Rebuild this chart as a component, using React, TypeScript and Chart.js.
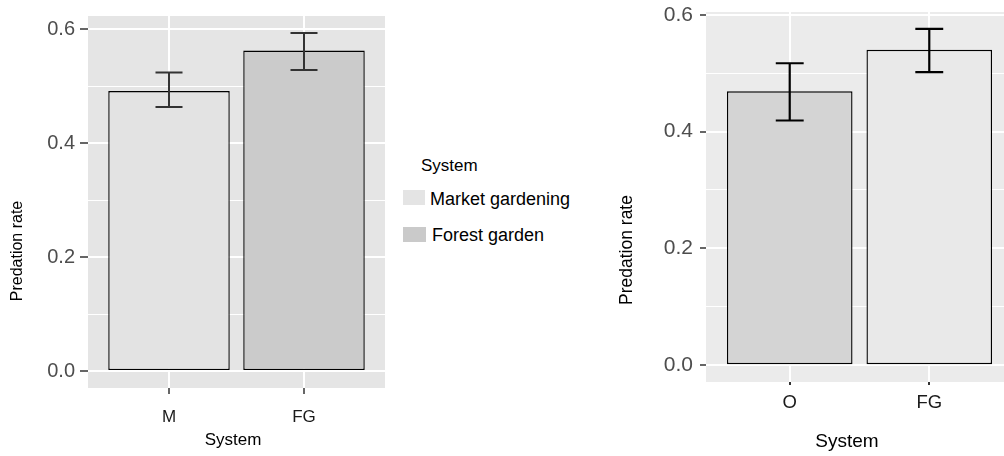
import React, { useEffect, useRef } from "react";
import { Chart, registerables } from "chart.js";

Chart.register(...registerables);

// ---------- data ----------
const leftCategories = ["M", "FG"];
const leftValues = [0.492, 0.563];
const leftErrLow = [0.464, 0.529];
const leftErrHigh = [0.5245, 0.594];

const rightCategories = ["O", "FG"];
const rightValues = [0.469, 0.54];
const rightErrLow = [0.419, 0.502];
const rightErrHigh = [0.517, 0.576];

const yTickValues = [0, 0.1, 0.2, 0.3, 0.4, 0.5, 0.6];
const legendTitle = "System";
const legendLabels = ["Market gardening", "Forest garden"];
const xAxisTitle = "System";
const yAxisTitle = "Predation rate";

// ---------- styles ----------
const FONT = "'Liberation Sans', Arial, Helvetica, sans-serif";
const leftFills = ["#e3e3e3", "#cbcbcb"];
const rightFills = ["#d4d4d4", "#e9e9e9"];
const legendFills = ["#e4e4e4", "#cacaca"];

const isMajor = (v: number) => Math.round(v * 10) % 2 === 0;

type PanelOpts = {
  categories: string[];
  values: number[];
  low: number[];
  high: number[];
  fills: string[];
  panelBg: string;
  errColor: string;
  errWidth: number;
  padTop: number;
  padRight: number;
  yAxisWidth: number;
  xAxisHeight: number;
  yTickFont: number;
  yTickLen: number;
  yTickPad: number;
  xTickFont: number;
  xTickLen: number;
  xTickPad: number;
  xTickWidth: number;
  yTitlePos: [number, number];
  yTitleFont: number;
  xTitlePos: [number, number];
  xTitleFont: number;
};

function makeConfig(o: PanelOpts): any {
  const top = Math.max(...o.high);
  const yMax = top * 1.05;
  const yMin = -top * 0.05;
  const n = o.categories.length;

  const bgPlugin = {
    id: "panelBg",
    beforeDraw(chart: any) {
      const { ctx, chartArea: a } = chart;
      ctx.save();
      ctx.fillStyle = o.panelBg;
      ctx.fillRect(a.left, a.top, a.right - a.left, a.bottom - a.top);
      ctx.restore();
    },
  };

  const errPlugin = {
    id: "errBars",
    afterDatasetsDraw(chart: any) {
      const { ctx } = chart;
      const xs = chart.scales.x;
      const ys = chart.scales.y;
      ctx.save();
      ctx.strokeStyle = o.errColor;
      ctx.lineWidth = o.errWidth;
      ctx.lineCap = "butt";
      for (let i = 0; i < n; i++) {
        const xc = xs.getPixelForValue(i + 1);
        const xl = xs.getPixelForValue(i + 1 - 0.1);
        const xr = xs.getPixelForValue(i + 1 + 0.1);
        const yl = ys.getPixelForValue(o.low[i]);
        const yh = ys.getPixelForValue(o.high[i]);
        ctx.beginPath();
        ctx.moveTo(xc, yl);
        ctx.lineTo(xc, yh);
        ctx.moveTo(xl, yl);
        ctx.lineTo(xr, yl);
        ctx.moveTo(xl, yh);
        ctx.lineTo(xr, yh);
        ctx.stroke();
      }
      ctx.restore();
    },
  };

  const titlePlugin = {
    id: "axisTitles",
    afterDraw(chart: any) {
      const { ctx } = chart;
      ctx.save();
      ctx.fillStyle = "#000000";
      ctx.textAlign = "center";
      ctx.textBaseline = "middle";
      ctx.font = `${o.xTitleFont}px ${FONT}`;
      ctx.fillText(xAxisTitle, o.xTitlePos[0], o.xTitlePos[1]);
      ctx.translate(o.yTitlePos[0], o.yTitlePos[1]);
      ctx.rotate(-Math.PI / 2);
      ctx.font = `${o.yTitleFont}px ${FONT}`;
      ctx.fillText(yAxisTitle, 0, 0);
      ctx.restore();
    },
  };

  return {
    type: "bar",
    data: {
      datasets: [
        {
          data: o.values.map((v, i) => ({ x: i + 1, y: v })),
          backgroundColor: o.fills,
          borderColor: "#000000",
          borderWidth: 1.4,
          borderSkipped: false,
          barPercentage: 0.9,
          categoryPercentage: 1,
        },
      ],
    },
    options: {
      animation: false,
      responsive: false,
      devicePixelRatio: 1,
      layout: { padding: { top: o.padTop, right: o.padRight, left: 0, bottom: 0 } },
      plugins: { legend: { display: false }, tooltip: { enabled: false } },
      scales: {
        x: {
          type: "linear",
          offset: false,
          min: 0.4,
          max: n + 0.6,
          afterBuildTicks: (s: any) => {
            s.ticks = o.categories.map((_, i) => ({ value: i + 1 }));
          },
          afterFit: (s: any) => {
            s.height = o.xAxisHeight;
          },
          border: { display: false },
          grid: {
            offset: false,
            color: "#ffffff",
            lineWidth: 2,
            tickColor: "#333333",
            tickLength: o.xTickLen,
            tickWidth: o.xTickWidth,
          },
          ticks: {
            autoSkip: false,
            maxRotation: 0,
            padding: o.xTickPad,
            color: "#1a1a1a",
            font: { family: FONT, size: o.xTickFont, lineHeight: 1 },
            callback: (v: any) => o.categories[Math.round(v) - 1] ?? "",
          },
        },
        y: {
          type: "linear",
          min: yMin,
          max: yMax,
          afterBuildTicks: (s: any) => {
            s.ticks = yTickValues.map((v) => ({ value: v }));
          },
          afterFit: (s: any) => {
            s.width = o.yAxisWidth;
          },
          border: { display: false },
          grid: {
            color: "#ffffff",
            lineWidth: (c: any) => (c.tick && !isMajor(c.tick.value) ? 1 : 2),
            tickColor: (c: any) =>
              c.tick && !isMajor(c.tick.value) ? "rgba(0,0,0,0)" : "#333333",
            tickLength: o.yTickLen,
            tickWidth: 1.5,
          },
          ticks: {
            autoSkip: false,
            padding: o.yTickPad,
            color: "#4d4d4d",
            font: { family: FONT, size: o.yTickFont, lineHeight: 0.4 },
            callback: (v: any) => (isMajor(v) ? Number(v).toFixed(1) : ""),
          },
        },
      },
    },
    plugins: [bgPlugin, errPlugin, titlePlugin],
  };
}

const leftOpts: PanelOpts = {
  categories: leftCategories,
  values: leftValues,
  low: leftErrLow,
  high: leftErrHigh,
  fills: leftFills,
  panelBg: "#e5e5e5",
  errColor: "#333333",
  errWidth: 2,
  padTop: 16,
  padRight: 15,
  yAxisWidth: 88,
  xAxisHeight: 68,
  yTickFont: 20,
  yTickLen: 8,
  yTickPad: 5,
  xTickFont: 17,
  xTickLen: 6,
  xTickPad: 15,
  xTickWidth: 1.5,
  yTitlePos: [18, 251],
  yTitleFont: 16,
  xTitlePos: [233, 440],
  xTitleFont: 17,
};

const rightOpts: PanelOpts = {
  categories: rightCategories,
  values: rightValues,
  low: rightErrLow,
  high: rightErrHigh,
  fills: rightFills,
  panelBg: "#ebebeb",
  errColor: "#000000",
  errWidth: 2.2,
  padTop: 12,
  padRight: 7,
  yAxisWidth: 106,
  xAxisHeight: 74,
  yTickFont: 21,
  yTickLen: 6,
  yTickPad: 7,
  xTickFont: 18.5,
  xTickLen: 3,
  xTickPad: 9,
  xTickWidth: 2,
  yTitlePos: [27, 250],
  yTitleFont: 17.5,
  xTitlePos: [247, 442],
  xTitleFont: 19,
};

function Panel({ opts, left, width }: { opts: PanelOpts; left: number; width: number }) {
  const ref = useRef<HTMLCanvasElement | null>(null);
  useEffect(() => {
    if (!ref.current) return;
    const chart = new Chart(ref.current, makeConfig(opts));
    return () => chart.destroy();
  }, [opts]);
  return (
    <canvas
      ref={ref}
      width={width}
      height={456}
      style={{ position: "absolute", left, top: 0, width, height: 456, display: "block" }}
    />
  );
}

export default function App() {
  const textStyle: React.CSSProperties = {
    position: "absolute",
    fontFamily: FONT,
    color: "#000000",
    whiteSpace: "nowrap",
    lineHeight: "20px",
    height: 20,
  };
  return (
    <div
      style={{
        position: "absolute",
        left: 0,
        top: 0,
        width: 1004,
        height: 456,
        overflow: "hidden",
        background: "#ffffff",
      }}
    >
      <Panel opts={leftOpts} left={0} width={400} />
      <Panel opts={rightOpts} left={600} width={420} />
      <div style={{ ...textStyle, left: 421, top: 156, fontSize: 17 }}>{legendTitle}</div>
      <div style={{ position: "absolute", left: 403, top: 190, width: 22, height: 15, background: legendFills[0] }} />
      <div style={{ ...textStyle, left: 430, top: 189, fontSize: 18 }}>{legendLabels[0]}</div>
      <div style={{ position: "absolute", left: 403, top: 227, width: 23, height: 15, background: legendFills[1] }} />
      <div style={{ ...textStyle, left: 432, top: 225, fontSize: 18 }}>{legendLabels[1]}</div>
    </div>
  );
}
